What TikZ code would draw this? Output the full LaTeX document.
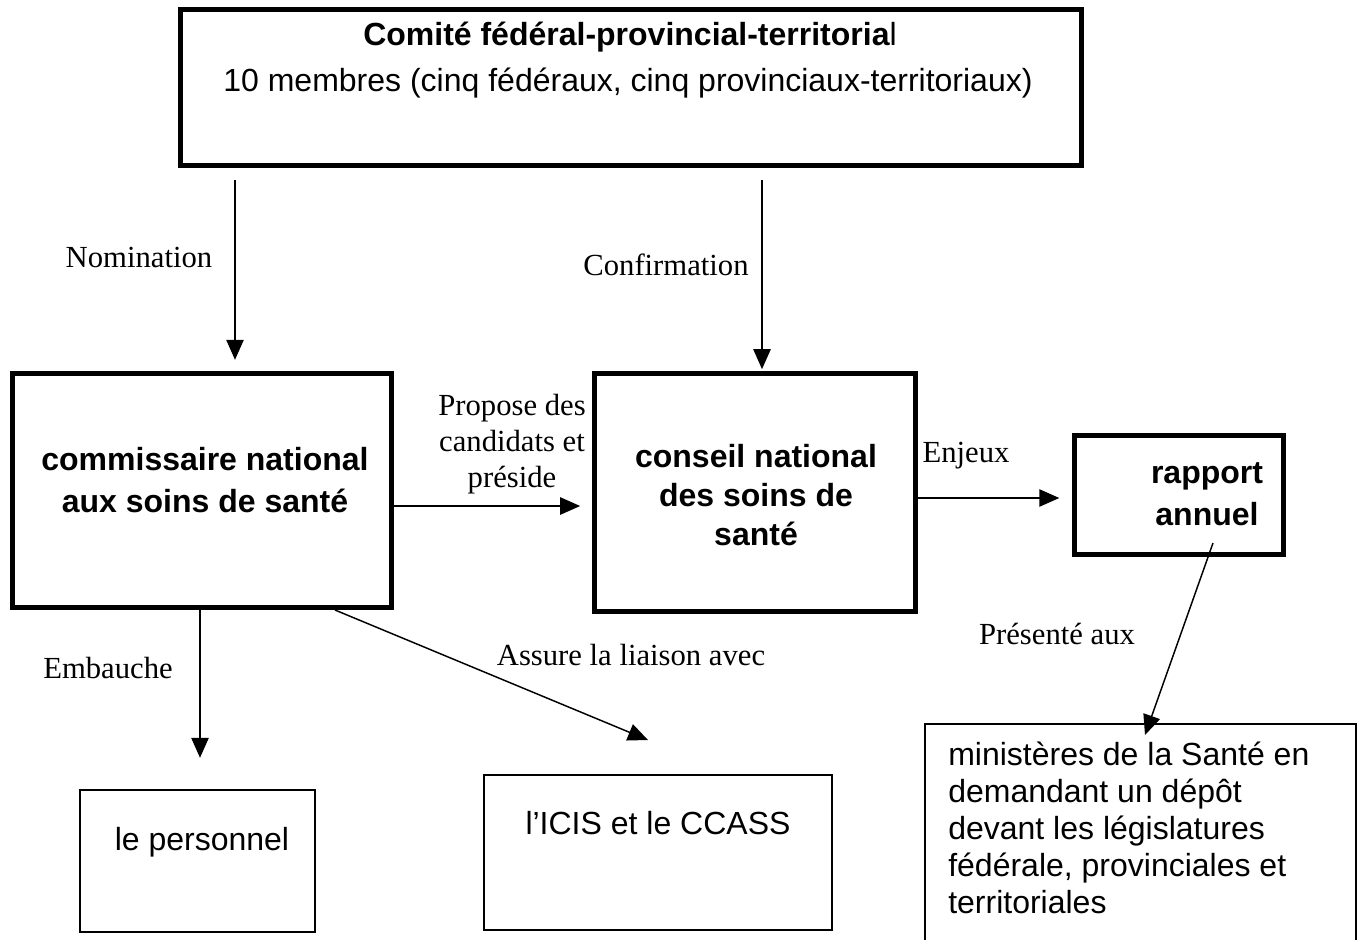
\documentclass[tikz,border=0pt]{standalone}
\usepackage{fontspec}
\setmainfont{Liberation Serif}
\setsansfont{Liberation Sans}
\usetikzlibrary{arrows.meta,calc}
\begin{document}
\begin{tikzpicture}[x=0.75pt,y=-0.75pt,
  thickbox/.style={draw,line width=3.75pt,rectangle,inner sep=0pt},
  thinbox/.style={draw,line width=1.1pt,rectangle,inner sep=0pt},
  boxtext/.style={font=\sffamily\fontsize{24}{30.75}\selectfont,align=center,inner sep=0pt},
  bboxtext/.style={boxtext,font=\sffamily\bfseries\fontsize{24}{31.5}\selectfont},
  lbl/.style={font=\rmfamily\fontsize{23}{27}\selectfont,align=center,inner sep=0pt},
  arr/.style={line width=1.1pt,-{Triangle[length=15pt,width=13pt]}}]
\useasboundingbox (0,0) rectangle (1366,939);
\clip (0,0) rectangle (1366,939);
\fill[white] (0,0) rectangle (1366,939);

% boxes
\node[thickbox,minimum width=675.75pt,minimum height=117pt] (top) at (630.5,87) {};
\node[thickbox,minimum width=284.6pt,minimum height=175.5pt] (comm) at (202.25,490) {};
\node[thickbox,minimum width=240.75pt,minimum height=178.5pt] (cons) at (754.5,492) {};
\node[thickbox,minimum width=156.4pt,minimum height=89.25pt] (rapp) at (1178.75,495) {};
\node[thinbox,minimum width=323.25pt,minimum height=177pt] (mini) at (1140.5,842) {};
\node[thinbox,minimum width=176.25pt,minimum height=106.5pt] (pers) at (197.5,861) {};
\node[thinbox,minimum width=261pt,minimum height=116.25pt] (icis) at (658,852.5) {};

% box texts
\node[boxtext] (topa) at (630,37) {\bfseries Comité fédéral-provincial-territoria{\mdseries l}};
\node[boxtext] (topb) at (628,83) {10 membres (cinq fédéraux, cinq provinciaux-territoriaux)};
\node[bboxtext] (commt) at (205,480) {commissaire national\\aux soins de santé};
\node[bboxtext,font=\sffamily\bfseries\fontsize{24}{29.25}\selectfont] (const) at (756,495) {conseil national\\des soins de\\santé};
\node[bboxtext] (rappt) at (1207,494) {rapport\\annuel};
\node[boxtext,font=\sffamily\fontsize{24}{27.75}\selectfont,align=left,anchor=north west] (minit) at (948,742)
  {ministères de la Santé en\\demandant un dépôt\\devant les législatures\\fédérale, provinciales et\\territoriales};
\node[boxtext] (perst) at (202,842) {le personnel};
\node[boxtext] (icist) at (658,823) {l’ICIS et le CCASS};

% connector helper coordinates
\coordinate (nomx) at (235,0);
\coordinate (confx) at (762,0);
\coordinate (propy) at (0,506);
\coordinate (enjy) at (0,498);
\coordinate (embx) at (200,0);
\coordinate (as1) at (335,610);
\coordinate (as2) at (648,740);
\coordinate (pr1) at (1213,543);
\coordinate (pr2) at (1145,735);

% connectors
\draw[arr,shorten <=9.5pt,shorten >=8pt] (top.south -| nomx) -- (comm.north -| nomx);
\draw[arr,shorten <=9.5pt,shorten >=1pt] (top.south -| confx) -- (cons.north -| confx);
\draw[arr,shorten >=8.5pt] (comm.east |- propy) -- (cons.west |- propy);
\draw[arr,shorten >=9.5pt] (cons.east |- enjy) -- (rapp.west |- enjy);
\draw[arr,shorten >=23.6pt] (comm.south -| embx) -- (pers.north -| embx);
\draw[arr] (as1) -- (as2);
\draw[arr] (pr1) -- (pr2);

% labels
\node[lbl] (lnom) at (139,257) {Nomination};
\node[lbl] (lconf) at (666,265) {Confirmation};
\node[lbl] (lprop) at (512,444) {Propose des\\candidats et\\préside};
\node[lbl] (lenj) at (966,456) {Enjeux};
\node[lbl] (lpres) at (1057,634) {Présenté aux};
\node[lbl] (lemb) at (108,668) {Embauche};
\node[lbl] (lass) at (631,655) {Assure la liaison avec};
\end{tikzpicture}
\end{document}
